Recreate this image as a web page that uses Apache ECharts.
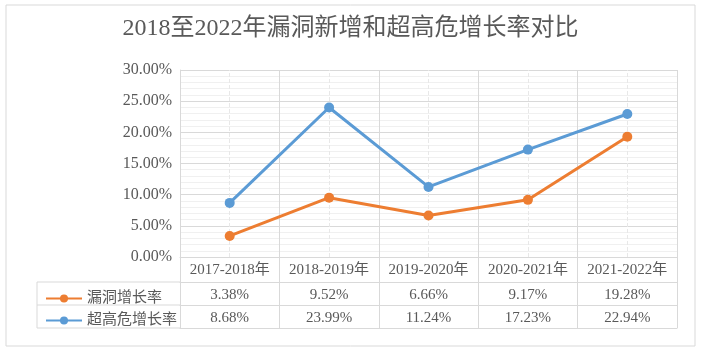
<!DOCTYPE html>
<html><head><meta charset="utf-8">
<script src="https://cdn.jsdelivr.net/npm/echarts@6/dist/echarts.min.js"></script>
<style>html,body{margin:0;padding:0;background:#fff;}#c{width:701px;height:355px;}</style>
</head><body><div id="c"></div>
<script>
const title = '2018至2022年漏洞新增和超高危增长率对比';
const categories = ['2017-2018年','2018-2019年','2019-2020年','2020-2021年','2021-2022年'];
const seriesNames = ['漏洞增长率','超高危增长率'];
const leakRate = [3.38, 9.52, 6.66, 9.17, 19.28];
const highRiskRate = [8.68, 23.99, 11.24, 17.23, 22.94];
const yTicks = [0, 5, 10, 15, 20, 25, 30];

const FONT = "'Liberation Serif','Times New Roman','Noto Sans CJK SC',serif";
const TXT = '#595959';
const GRID = '#d9d9d9';
const ORANGE = '#ED7D31', BLUE = '#5B9BD5';
const pct = v => v.toFixed(2) + '%';

const chart = echarts.init(document.getElementById('c'), null, {renderer:'canvas'});
const baseX = {
  type:'category', data: categories, position:'bottom', boundaryGap:true,
  axisLine:{show:true, lineStyle:{color:GRID, width:1}},
  axisTick:{show:true, length:23, interval:0, lineStyle:{color:GRID}},
  axisLabel:{interval:0, color:TXT, fontFamily:FONT, fontSize:15, margin:6},
  splitLine:{show:false}
};
chart.setOption({
  animation:false,
  title:{text:title, left:'center', top:12, textStyle:{fontFamily:FONT, fontSize:24, fontWeight:'normal', color:TXT}},
  legend:{data:seriesNames, orient:'vertical', left:40, top:286, itemGap:7, itemWidth:36, itemHeight:10,
    textStyle:{fontFamily:FONT, fontSize:15, color:TXT}},
  grid:{left:180, right:24, top:70, bottom:98, containLabel:false},
  xAxis:[
    Object.assign({}, baseX, {offset:0, axisTick:{show:true, length:25, interval:0, lineStyle:{color:GRID}},
      splitLine:{show:true, lineStyle:{color:GRID, width:1}}}),
    Object.assign({}, baseX, {offset:25, axisLabel:Object.assign({}, baseX.axisLabel, {formatter:(v,i)=>pct(leakRate[i])})}),
    Object.assign({}, baseX, {offset:48, axisLabel:Object.assign({}, baseX.axisLabel, {formatter:(v,i)=>pct(highRiskRate[i])})}),
    Object.assign({}, baseX, {offset:71, axisTick:{show:false}, axisLabel:{show:false}})
  ],
  yAxis:{type:'value', min:yTicks[0], max:yTicks[yTicks.length-1], interval:yTicks[1]-yTicks[0],
    axisLine:{show:true, lineStyle:{color:GRID}}, axisTick:{show:false},
    axisLabel:{formatter:v=>pct(v), color:TXT, fontFamily:FONT, fontSize:16, margin:8},
    splitLine:{show:true, lineStyle:{color:GRID, width:1}},
    minorTick:{show:false, splitNumber:5},
    minorSplitLine:{show:true, lineStyle:{color:'#f0f0f0', width:1}}
  },
  series:[
    {name:'centerLines', type:'line', data:[], xAxisIndex:0, z:1, silent:true,
      markLine:{silent:true, z:1, symbol:'none', label:{show:false}, animation:false,
        lineStyle:{type:'dashed', color:'#e8e8e8', width:1},
        data:categories.map(c=>({xAxis:c}))}},
    {name:seriesNames[0], type:'line', data:leakRate, xAxisIndex:0, color:ORANGE,
      lineStyle:{width:3, color:ORANGE}, itemStyle:{color:ORANGE}, symbol:'circle', symbolSize:10, z:3},
    {name:seriesNames[1], type:'line', data:highRiskRate, xAxisIndex:0, color:BLUE,
      lineStyle:{width:3, color:BLUE}, itemStyle:{color:BLUE}, symbol:'circle', symbolSize:10, z:4}
  ],
  graphic:[
    {type:'rect', shape:{x:6, y:5, width:689, height:341}, style:{fill:'none', stroke:'#d9d9d9', lineWidth:1}, silent:true},
    {type:'line', shape:{x1:37, y1:282, x2:180, y2:282}, style:{stroke:GRID, lineWidth:1}},
    {type:'line', shape:{x1:37, y1:305, x2:180, y2:305}, style:{stroke:GRID, lineWidth:1}},
    {type:'line', shape:{x1:37, y1:328, x2:180, y2:328}, style:{stroke:GRID, lineWidth:1}},
    {type:'line', shape:{x1:37, y1:282, x2:37, y2:328}, style:{stroke:GRID, lineWidth:1}}
  ]
});
</script></body></html>
